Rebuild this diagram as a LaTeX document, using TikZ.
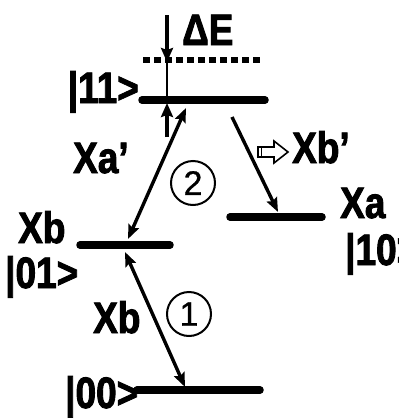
\documentclass[tikz,border=0pt]{standalone}
\usepackage{fontspec}
\setmainfont{Liberation Sans}
\newfontfamily\lab[FakeStretch=0.84,BoldFeatures={FakeBold=2}]{Liberation Sans}
\newfontfamily\numfont[FakeBold=0.8]{Liberation Sans}
\usetikzlibrary{arrows.meta}
\begin{document}
\begin{tikzpicture}[x=1pt,y=-1pt,
  levelline/.style={line width=7.5pt,line cap=round},
  trans/.style={line width=3.4pt},
  arrhead/.tip={Stealth[length=14pt,width=11pt,inset=2pt]},
  bigarr/.tip={Stealth[length=14pt,width=12pt,inset=2pt]},
  txt/.style={font=\lab\bfseries\fontsize{44}{44}\selectfont,inner sep=0pt},
  num/.style={circle,draw,line width=2pt,minimum size=44pt,inner sep=0pt,font=\numfont\fontsize{34}{34}\selectfont}]
\useasboundingbox (0,0) rectangle (399,418);
% energy levels
\coordinate (l11a) at (142,100); \coordinate (l11b) at (265,100);
\coordinate (l01a) at (80,245);  \coordinate (l01b) at (170,245);
\coordinate (l10a) at (230,217); \coordinate (l10b) at (322,217);
\coordinate (l00a) at (137,390); \coordinate (l00b) at (260,390);
\draw[levelline] (l11a) -- (l11b);
\draw[levelline] (l01a) -- (l01b);
\draw[levelline] (l10a) -- (l10b);
\draw[levelline] (l00a) -- (l00b);
% dotted level
\coordinate (da) at (143,60); \coordinate (db) at (263,60);
\draw[line width=6pt,dash pattern=on 6.5pt off 4.5pt] (da) -- (db);
% Delta E marker
\coordinate (e0) at (167,15); \coordinate (e1) at (167,62);
\coordinate (e2) at (167,103); \coordinate (e3) at (167,137);
\coordinate (e4) at (167,100); \coordinate (e5) at (167,58);
\draw[line width=1.3pt] (e5) -- (e4);
\draw[line width=4.5pt,-bigarr] (e0) -- (e1);
\draw[line width=4.5pt,-bigarr] (e3) -- (e2);
% transitions
\coordinate (t1a) at (125,252); \coordinate (t1b) at (185,387);
\coordinate (t2a) at (186,108); \coordinate (t2b) at (128,239);
\coordinate (t3a) at (232,117); \coordinate (t3b) at (278,212);
\draw[trans,arrhead-arrhead] (t1a) -- (t1b);
\draw[trans,arrhead-arrhead] (t2a) -- (t2b);
\draw[trans,-arrhead] (t3a) -- (t3b);
% outline arrow
\draw[line width=1.6pt,line join=miter] (258,147) -- (274,147) -- (274,141) -- (288,152) -- (274,163) -- (274,157) -- (258,157) -- cycle;
\draw[line width=1.3pt] (261.5,147) -- (261.5,157);
% labels
\node[txt,anchor=base west] (dE) at (182,45) {ΔE};
\node[txt,anchor=base east] (k11) at (139,103) {|11>};
\node[txt,anchor=base west] (xap) at (73,173) {Xa’};
\node[txt,anchor=base west] (xb1) at (18,243) {Xb};
\node[txt,anchor=base west] (k01) at (5,288) {|01>};
\node[txt,anchor=base west] (xb2) at (93,333) {Xb};
\node[txt,anchor=base west] (k00) at (65,408) {|00>};
\node[txt,anchor=base west] (xbp) at (292,163) {Xb’};
\node[txt,anchor=base west] (xa) at (340,218) {Xa};
\node[txt,anchor=base west] (k10) at (345,265) {|10>};
\node[num] (n1) at (189,314) {1};
\node[num] (n2) at (193,183) {2};
\end{tikzpicture}
\end{document}
